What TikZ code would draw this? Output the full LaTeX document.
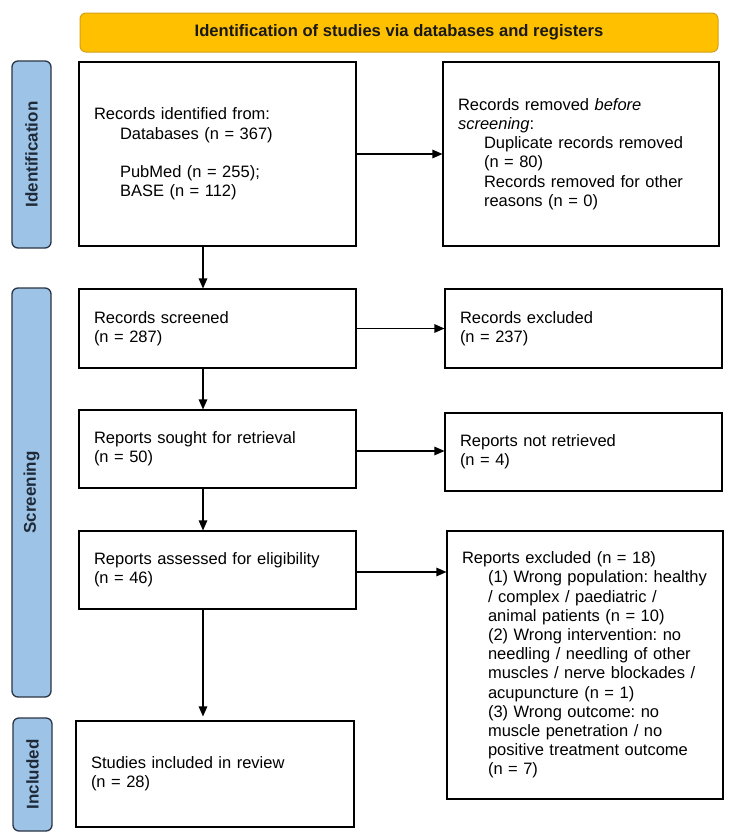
\documentclass[tikz,border=0pt]{standalone}
\usepackage{fontspec}
\setmainfont{Liberation Sans}
\usetikzlibrary{arrows.meta}
\definecolor{hdrfill}{HTML}{FFC000}
\definecolor{hdrdraw}{HTML}{D4A017}
\definecolor{labfill}{HTML}{9DC3E6}
\definecolor{labdraw}{HTML}{2B3544}
\definecolor{labtext}{HTML}{1F2A38}
\newcommand{\ind}{\hspace*{26pt}}
\tikzset{
  box/.style={draw=black, line width=1.1pt, fill=white, inner xsep=14pt, inner ysep=4pt,
    align=left, font=\fontsize{16.5}{19.2}\selectfont\frenchspacing},
  sidelab/.style={draw=labdraw, line width=1.3pt, fill=labfill, rounded corners=6pt,
    rotate=90, text=labtext, font=\fontsize{17}{19}\selectfont\bfseries, inner sep=0pt},
  hdrbox/.style={draw=hdrdraw, line width=1pt, fill=hdrfill, rounded corners=6pt,
    font=\fontsize{16.6}{19}\selectfont\bfseries, text=black!90, inner sep=0pt},
  arr/.style={line width=1.2pt, -{Triangle[length=10pt,width=8.5pt]}}
}
\begin{document}
\begin{tikzpicture}[x=1pt,y=-1pt]
\useasboundingbox (0,0) rectangle (733,838);
\fill[white] (0,0) rectangle (733,838);
% header
\node[hdrbox, minimum width=638pt, minimum height=39pt] (hdr) at (399,32.5)
  {Identification of studies via databases and registers};
% side labels
\node[sidelab, minimum width=187pt, minimum height=39pt] (lab1) at (31.5,154.5) {Identification};
\node[sidelab, minimum width=409pt, minimum height=39pt] (lab2) at (31.5,492.5) {Screening};
\node[sidelab, minimum width=113pt, minimum height=39pt] (lab3) at (32.5,774.5) {Included};
% boxes
\node[box, minimum width=277pt, minimum height=184pt, text width=247pt] (A) at (217.5,154)
  {Records identified from:\\ \ind Databases (n = 367)\\[19.2pt] \ind PubMed (n = 255);\\ \ind BASE (n = 112)};
\node[box, minimum width=276pt, minimum height=184pt, text width=246pt] (B) at (581,154)
  {Records removed \textit{before}\\ \textit{screening}:\\ \ind Duplicate records removed\\ \ind (n = 80)\\ \ind Records removed for other\\ \ind reasons (n = 0)};
\node[box, minimum width=277pt, minimum height=79pt, text width=247pt] (C) at (217.5,328.5)
  {Records screened\\ (n = 287)};
\node[box, minimum width=277pt, minimum height=79pt, text width=247pt] (D) at (583.5,328.5)
  {Records excluded\\ (n = 237)};
\node[box, minimum width=277pt, minimum height=78pt, text width=247pt] (E) at (217.5,449)
  {Reports sought for retrieval\\ (n = 50)};
\node[box, minimum width=277pt, minimum height=78pt, text width=247pt] (F) at (583.5,452)
  {Reports not retrieved\\ (n = 4)};
\node[box, minimum width=277pt, minimum height=78pt, text width=247pt] (G) at (217.5,570)
  {Reports assessed for eligibility\\ (n = 46)};
\node[box, minimum width=276pt, minimum height=268pt, text width=246pt] (H) at (585,665)
  {Reports excluded (n = 18)\\
   \ind\mbox{(1) Wrong population: healthy}\\
   \ind / complex / paediatric /\\
   \ind animal patients (n = 10)\\
   \ind (2) Wrong intervention: no\\
   \ind needling / needling of other\\
   \ind muscles / nerve blockades /\\
   \ind acupuncture (n = 1)\\
   \ind (3) Wrong outcome: no\\
   \ind muscle penetration / no\\
   \ind positive treatment outcome\\
   \ind (n = 7)};
\node[box, minimum width=278pt, minimum height=106pt, text width=248pt] (I) at (215,774)
  {Studies included in review\\ (n = 28)};
% connectors
\coordinate (vx) at (203,0);
\coordinate (e1) at ([yshift=-2pt]E.east);
\coordinate (g1) at ([yshift=-2pt]G.east);
\coordinate (i1) at ([yshift=4pt]I.north -| vx);
\draw[arr] (A.east) -- (B.west |- A.east);
\draw[arr] (C.east) -- (D.west |- C.east);
\draw[arr] (e1) -- (F.west |- e1);
\draw[arr] (g1) -- (H.west |- g1);
\draw[arr] (A.south -| vx) -- (C.north -| vx);
\draw[arr] (C.south -| vx) -- (E.north -| vx);
\draw[arr] (E.south -| vx) -- (G.north -| vx);
\draw[arr] (G.south -| vx) -- (i1);
\end{tikzpicture}
\end{document}
